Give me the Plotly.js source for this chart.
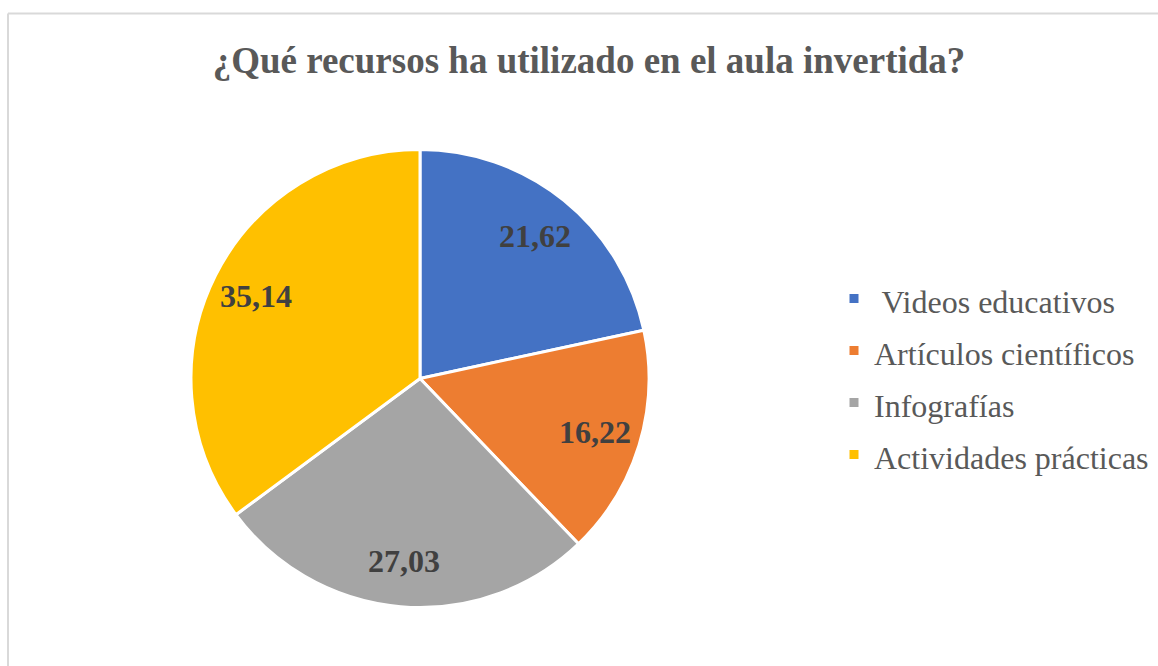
<!DOCTYPE html>
<html>
<head>
<meta charset="utf-8">
<script src="https://cdn.plot.ly/plotly-3.0.1.min.js"></script>
<style>
  html, body { margin: 0; padding: 0; background: #ffffff; }
  #chart { width: 1158px; height: 666px; }
</style>
</head>
<body>
<div id="chart"></div>
<script>
const categories = [" Videos educativos", "Artículos científicos", "Infografías", "Actividades prácticas"];
const values = [21.62, 16.22, 27.03, 35.14];
const valueLabels = ["21,62", "16,22", "27,03", "35,14"];
const colors = ["#4472C4", "#ED7D31", "#A5A5A5", "#FFC000"];
const titleText = "¿Qué recursos ha utilizado en el aula invertida?";

const W = 1158, H = 666;
const serif = "Liberation Serif, Times New Roman, serif";

// pie domain (paper fractions)
const domX = [191 / W, 649 / W];
const domY = [1 - 607.5 / H, 1 - 149.5 / H];

const trace = {
  type: "pie",
  labels: categories.map(c => '<span style="font-size:32px">' + c + '</span>'),
  values: values,
  text: valueLabels,
  textinfo: "none",
  sort: false,
  direction: "clockwise",
  rotation: 0,
  marker: { colors: colors, line: { color: "#ffffff", width: 3 } },
  domain: { x: domX, y: domY },
  hoverinfo: "text+percent"
};

// data labels placed along each slice's bisector (derived from the values)
const total = values.reduce((a, b) => a + b, 0);
const cxPx = (domX[0] + domX[1]) / 2 * W;
const cyPx = (1 - (domY[0] + domY[1]) / 2) * H;
const Rpx = Math.min((domX[1] - domX[0]) * W, (domY[1] - domY[0]) * H) / 2;
let cum = 0;
const annotations = values.map((v, i) => {
  const mid = (cum + v / 2) / total * 2 * Math.PI;
  cum += v;
  const r = 0.8 * Rpx;
  const xPx = cxPx + r * Math.sin(mid);
  const yPx = cyPx - r * Math.cos(mid);
  return {
    xref: "paper", yref: "paper",
    x: xPx / W, y: 1 - yPx / H,
    xanchor: "center", yanchor: "middle",
    showarrow: false,
    text: "<b>" + valueLabels[i] + "</b>",
    font: { family: serif, size: 32, color: "#404040" }
  };
});

const layout = {
  width: W,
  height: H,
  margin: { l: 0, r: 0, t: 0, b: 0, autoexpand: false },
  paper_bgcolor: "#ffffff",
  title: {
    text: "<b>" + titleText + "</b>",
    font: { family: serif, size: 37, color: "#595959" },
    x: 589 / W,
    xanchor: "center",
    y: 1 - 60 / H,
    yanchor: "middle",
    yref: "container"
  },
  showlegend: true,
  legend: {
    x: 834 / W,
    xanchor: "left",
    y: 1 - 377 / H,
    yanchor: "middle",
    font: { family: serif, size: 37.7, color: "#595959" },
    bgcolor: "rgba(0,0,0,0)"
  },
  annotations: annotations,
  shapes: [
    { type: "line", xref: "paper", yref: "paper", x0: 8 / W, x1: 8 / W, y0: 0, y1: 1 - 13.5 / H, line: { color: "#d9d9d9", width: 2 } },
    { type: "line", xref: "paper", yref: "paper", x0: 8 / W, x1: 1, y0: 1 - 13.5 / H, y1: 1 - 13.5 / H, line: { color: "#d9d9d9", width: 2 } }
  ]
};

Plotly.newPlot("chart", [trace], layout, { displayModeBar: false, responsive: false });
</script>
</body>
</html>
